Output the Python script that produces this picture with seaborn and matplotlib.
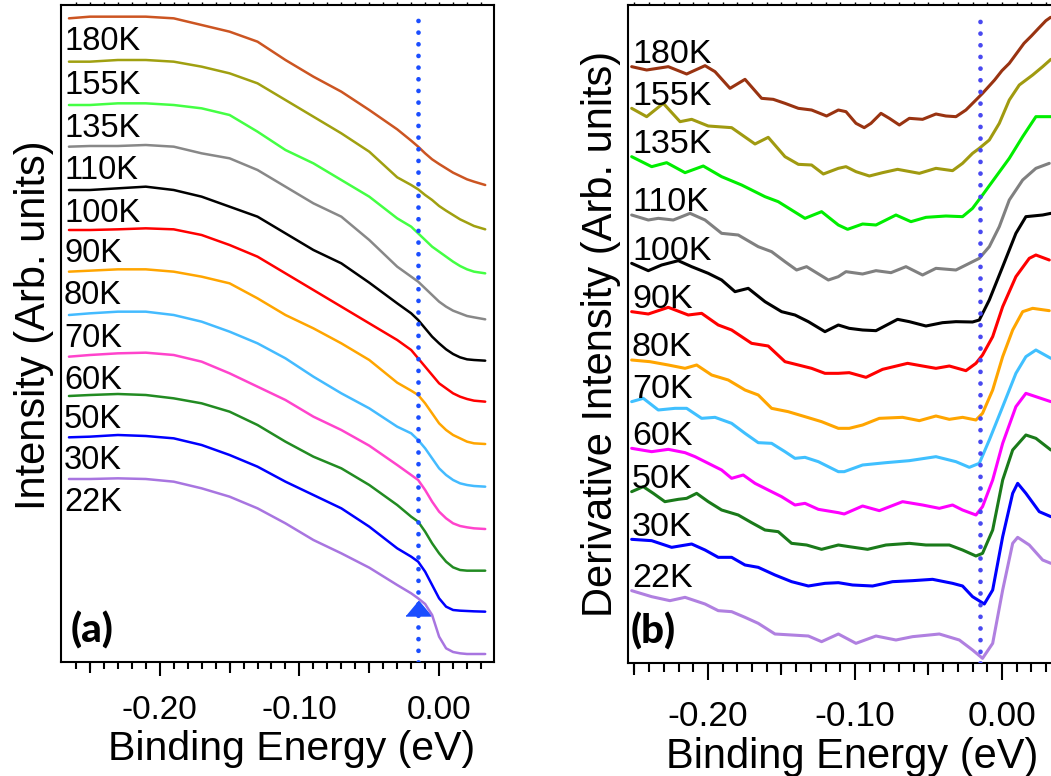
import numpy as np
import pandas as pd
import matplotlib
matplotlib.use("Agg")
import matplotlib.pyplot as plt
import matplotlib.transforms as mtransforms
from matplotlib.ticker import FixedLocator
import seaborn as sns

# ---------------- data (arbitrary units, "reading" scale) ----------------
temps = ['180K', '155K', '135K', '110K', '100K', '90K', '80K', '70K', '60K', '50K', '30K', '22K']

# panel (a): raw spectra (common energy grid)
energy_a = [-0.265, -0.25, -0.23, -0.21, -0.19, -0.17, -0.15, -0.13, -0.11, -0.09, -0.07, -0.05,
            -0.03, -0.02, -0.015, -0.01, -0.005, 0.0, 0.005, 0.01, 0.015, 0.02, 0.025, 0.033]
raw_180K = [55, 50, 50, 50, 55, 75, 95, 125, 180, 230, 275, 330, 388, 422, 440, 460, 478, 492, 505, 518, 528, 538, 545, 555]
raw_155K = [185, 185, 180, 180, 185, 200, 220, 250, 300, 350, 400, 455, 532, 555, 568, 585, 600, 618, 632, 645, 658, 668, 678, 688]
raw_135K = [315, 315, 310, 310, 315, 325, 345, 395, 450, 490, 540, 590, 655, 680, 700, 720, 740, 755, 770, 785, 798, 808, 815, 820]
raw_110K = [440, 438, 438, 435, 440, 460, 475, 510, 560, 610, 650, 720, 800, 830, 845, 865, 885, 905, 920, 932, 940, 948, 952, 958]
raw_100K = [570, 570, 565, 560, 570, 590, 620, 650, 700, 750, 790, 848, 910, 940, 960, 985, 1010, 1030, 1048, 1062, 1072, 1078, 1080, 1082]
raw_90K = [690, 690, 688, 685, 688, 705, 735, 770, 820, 870, 920, 970, 1020, 1050, 1075, 1100, 1125, 1150, 1165, 1180, 1190, 1197, 1202, 1205]
raw_80K = [815, 812, 808, 808, 815, 830, 850, 895, 945, 985, 1030, 1080, 1148, 1172, 1185, 1210, 1240, 1270, 1290, 1305, 1315, 1325, 1330, 1332]
raw_70K = [945, 940, 935, 935, 945, 965, 995, 1030, 1075, 1130, 1180, 1225, 1280, 1300, 1320, 1345, 1375, 1405, 1425, 1440, 1450, 1455, 1458, 1460]
raw_60K = [1070, 1065, 1060, 1058, 1065, 1085, 1120, 1160, 1200, 1250, 1290, 1337, 1395, 1425, 1440, 1470, 1505, 1535, 1555, 1570, 1578, 1582, 1585, 1587]
raw_50K = [1188, 1185, 1182, 1185, 1195, 1210, 1235, 1275, 1325, 1370, 1405, 1455, 1515, 1550, 1565, 1595, 1630, 1660, 1685, 1702, 1710, 1712, 1712, 1712]
raw_30K = [1312, 1310, 1305, 1308, 1315, 1335, 1365, 1400, 1445, 1485, 1525, 1580, 1645, 1670, 1685, 1715, 1755, 1795, 1820, 1830, 1832, 1833, 1834, 1835]
raw_22K = [1437, 1437, 1435, 1437, 1445, 1465, 1490, 1525, 1570, 1620, 1660, 1703, 1755, 1780, 1795, 1812, 1845, 1910, 1945, 1956, 1960, 1962, 1962, 1962]

# panel (b): derivative spectra (points read at features of each curve)
der_180K_E = [-0.2519, -0.2417, -0.2270, -0.2145, -0.2020, -0.1952, -0.1850, -0.1748, -0.1635, -0.1556,
              -0.1476, -0.1385, -0.1295, -0.1193, -0.1113, -0.1061, -0.0993, -0.0937, -0.0891, -0.0823,
              -0.0766, -0.0698, -0.0630, -0.0540, -0.0449, -0.0381, -0.0313, -0.0245, -0.0177, -0.0132,
              -0.0050, 0.0, 0.0050, 0.0100, 0.0150, 0.0200, 0.0249, 0.0299, 0.0331]
der_180K = [200, 210, 200, 222, 197, 215, 265, 238, 295, 298, 310, 325, 330, 348, 330, 335, 370, 383, 370, 340,
            355, 375, 355, 358, 342, 348, 350, 330, 300, 280, 240, 212, 190, 160, 130, 108, 85, 62, 52]

der_155K_E = [-0.2519, -0.2417, -0.2304, -0.2190, -0.2111, -0.1998, -0.1839, -0.1680, -0.1590, -0.1476,
              -0.1385, -0.1295, -0.1215, -0.1113, -0.1061, -0.0993, -0.0902, -0.0812, -0.0710, -0.0562,
              -0.0449, -0.0336, -0.0268, -0.0200, -0.0154, -0.0086, -0.0018, 0.0050, 0.0118, 0.0209,
              0.0277, 0.0333]
der_155K = [325, 350, 310, 365, 358, 378, 383, 432, 412, 470, 493, 495, 522, 505, 500, 515, 528, 518, 508, 520,
            505, 512, 490, 460, 445, 420, 370, 300, 255, 225, 200, 178]

der_135K_E = [-0.2519, -0.2383, -0.2281, -0.2156, -0.2032, -0.1907, -0.1771, -0.1612, -0.1522, -0.1431,
              -0.1340, -0.1227, -0.1113, -0.1050, -0.0948, -0.0857, -0.0721, -0.0619, -0.0517, -0.0381,
              -0.0268, -0.0200, -0.0132, -0.0041, 0.0050, 0.0141, 0.0231, 0.0333]
der_135K = [470, 500, 488, 518, 498, 530, 555, 590, 605, 630, 655, 635, 675, 688, 672, 675, 645, 665, 652, 648,
            650, 625, 585, 530, 475, 410, 350, 350]

der_110K_E = [-0.2519, -0.2406, -0.2338, -0.2236, -0.2122, -0.2020, -0.1907, -0.1794, -0.1658, -0.1567,
              -0.1476, -0.1397, -0.1329, -0.1181, -0.1113, -0.1061, -0.0948, -0.0857, -0.0755, -0.0653,
              -0.0540, -0.0449, -0.0313, -0.0222, -0.0154, -0.0086, -0.0018, 0.0050, 0.0141, 0.0231, 0.0322]
der_110K = [645, 660, 655, 660, 640, 660, 700, 705, 740, 755, 785, 810, 800, 840, 830, 815, 822, 812, 818, 800,
            825, 805, 810, 790, 775, 740, 680, 600, 540, 505, 490]

der_100K_E = [-0.2519, -0.2406, -0.2315, -0.2202, -0.2111, -0.1998, -0.1907, -0.1816, -0.1726, -0.1612,
              -0.1499, -0.1408, -0.1317, -0.1204, -0.1113, -0.1039, -0.0948, -0.0857, -0.0710, -0.0630,
              -0.0517, -0.0404, -0.0313, -0.0200, -0.0154, -0.0086, 0.0005, 0.0095, 0.0163, 0.0277, 0.0333]
der_100K = [790, 812, 795, 782, 800, 820, 840, 875, 865, 905, 935, 945, 965, 995, 975, 985, 990, 992, 958, 965,
            978, 968, 965, 966, 960, 900, 800, 700, 650, 645, 640]

der_90K_E = [-0.2519, -0.2406, -0.2270, -0.2134, -0.2043, -0.1930, -0.1839, -0.1703, -0.1590, -0.1476,
             -0.1385, -0.1295, -0.1204, -0.1113, -0.1039, -0.0925, -0.0812, -0.0642, -0.0540, -0.0449,
             -0.0358, -0.0245, -0.0177, -0.0132, -0.0063, 0.0005, 0.0095, 0.0186, 0.0231, 0.0322]
der_90K = [935, 942, 922, 945, 940, 975, 990, 1030, 1038, 1085, 1095, 1105, 1120, 1120, 1118, 1132, 1108, 1090,
           1098, 1105, 1098, 1112, 1090, 1065, 1010, 920, 830, 775, 765, 780]

der_80K_E = [-0.2519, -0.2395, -0.2270, -0.2156, -0.2077, -0.1975, -0.1862, -0.1748, -0.1658, -0.1567,
             -0.1454, -0.1340, -0.1227, -0.1113, -0.1039, -0.0948, -0.0834, -0.0676, -0.0562, -0.0449,
             -0.0358, -0.0268, -0.0177, -0.0132, -0.0063, 0.0005, 0.0073, 0.0141, 0.0209, 0.0322]
der_80K = [1080, 1085, 1095, 1105, 1095, 1125, 1140, 1170, 1185, 1225, 1235, 1250, 1265, 1285, 1285, 1275, 1255,
           1252, 1262, 1248, 1258, 1252, 1260, 1240, 1170, 1070, 990, 935, 925, 932]

der_70K_E = [-0.2519, -0.2440, -0.2338, -0.2224, -0.2145, -0.2043, -0.1952, -0.1839, -0.1748, -0.1658,
             -0.1567, -0.1476, -0.1408, -0.1340, -0.1249, -0.1113, -0.1073, -0.0948, -0.0789, -0.0630,
             -0.0449, -0.0313, -0.0222, -0.0154, -0.0086, 0.0005, 0.0095, 0.0163, 0.0231, 0.0333]
der_70K = [1205, 1195, 1230, 1225, 1225, 1255, 1252, 1270, 1300, 1328, 1330, 1355, 1375, 1372, 1385, 1415, 1415,
           1395, 1388, 1382, 1370, 1385, 1402, 1390, 1320, 1220, 1120, 1070, 1050, 1075]

der_60K_E = [-0.2519, -0.2383, -0.2270, -0.2156, -0.2088, -0.1975, -0.1907, -0.1839, -0.1760, -0.1680,
             -0.1590, -0.1499, -0.1408, -0.1340, -0.1249, -0.1113, -0.1073, -0.0948, -0.0834, -0.0676,
             -0.0540, -0.0426, -0.0336, -0.0268, -0.0177, -0.0132, -0.0063, 0.0005, 0.0095, 0.0163,
             0.0231, 0.0333]
der_60K = [1345, 1355, 1348, 1358, 1370, 1395, 1410, 1435, 1425, 1450, 1470, 1490, 1515, 1510, 1528, 1538, 1542,
           1518, 1532, 1505, 1515, 1525, 1515, 1530, 1545, 1520, 1440, 1330, 1220, 1180, 1190, 1205]

der_50K_E = [-0.2519, -0.2440, -0.2372, -0.2293, -0.2202, -0.2145, -0.2077, -0.1998, -0.1907, -0.1794,
             -0.1703, -0.1612, -0.1522, -0.1431, -0.1329, -0.1227, -0.1113, -0.1039, -0.0914, -0.0789,
             -0.0630, -0.0517, -0.0358, -0.0268, -0.0177, -0.0132, -0.0063, 0.0005, 0.0073, 0.0163,
             0.0231, 0.0333]
der_50K = [1475, 1460, 1480, 1505, 1498, 1495, 1480, 1505, 1530, 1545, 1568, 1590, 1595, 1630, 1635, 1648, 1635,
           1640, 1648, 1635, 1630, 1635, 1635, 1650, 1668, 1660, 1590, 1440, 1350, 1305, 1315, 1350]

der_30K_E = [-0.2519, -0.2383, -0.2247, -0.2111, -0.2020, -0.1930, -0.1839, -0.1748, -0.1658, -0.1544,
             -0.1431, -0.1317, -0.1204, -0.1113, -0.1016, -0.0880, -0.0744, -0.0608, -0.0472, -0.0336,
             -0.0268, -0.0200, -0.0120, -0.0063, 0.0005, 0.0073, 0.0107, 0.0163, 0.0254, 0.0333]
der_30K = [1618, 1622, 1642, 1632, 1650, 1672, 1672, 1695, 1702, 1725, 1745, 1758, 1750, 1748, 1755, 1758, 1745,
           1742, 1738, 1750, 1758, 1790, 1812, 1770, 1610, 1480, 1450, 1480, 1535, 1550]

der_22K_E = [-0.2519, -0.2383, -0.2259, -0.2156, -0.2020, -0.1930, -0.1839, -0.1748, -0.1658, -0.1544,
             -0.1431, -0.1317, -0.1227, -0.1113, -0.0993, -0.0857, -0.0721, -0.0608, -0.0426, -0.0290,
             -0.0200, -0.0132, -0.0063, 0.0005, 0.0073, 0.0107, 0.0186, 0.0277, 0.0333]
der_22K = [1772, 1790, 1802, 1792, 1812, 1832, 1835, 1852, 1870, 1902, 1905, 1908, 1925, 1902, 1930, 1908, 1920,
           1910, 1902, 1920, 1950, 1975, 1930, 1770, 1630, 1612, 1635, 1680, 1690]

edge_energy = -0.015          # dotted Fermi-edge reference
triangle_reading = 1823       # level of the triangle marker in panel (a)

raw_curves = [raw_180K, raw_155K, raw_135K, raw_110K, raw_100K, raw_90K,
              raw_80K, raw_70K, raw_60K, raw_50K, raw_30K, raw_22K]
der_energies = [der_180K_E, der_155K_E, der_135K_E, der_110K_E, der_100K_E, der_90K_E,
                der_80K_E, der_70K_E, der_60K_E, der_50K_E, der_30K_E, der_22K_E]
der_curves = [der_180K, der_155K, der_135K, der_110K, der_100K, der_90K,
              der_80K, der_70K, der_60K, der_50K, der_30K, der_22K]

colors_a = ['#cc5522', '#a0a010', '#44ff44', '#888888', '#000000', '#ff0000',
            '#ffa500', '#44bbff', '#ff44cc', '#228b22', '#0000ff', '#a875e0']
colors_b = ['#993311', '#a09a10', '#00ee00', '#808080', '#000000', '#ff0000',
            '#ffa500', '#40c0ff', '#ff00ff', '#1a7a1a', '#0000ff', '#b080e0']


def to_intensity(r):
    # picture readings grow downward; convert to an upward arbitrary-unit scale
    return (2000.0 - np.asarray(r, dtype=float)) / 100.0


def long_frame(energies, curves):
    rows = []
    for t, en, c in zip(temps, energies, curves):
        for e, v in zip(en, to_intensity(c)):
            rows.append((e, v, t))
    return pd.DataFrame(rows, columns=['E', 'I', 'T'])


df_a = long_frame([energy_a] * len(temps), raw_curves)
df_b = long_frame(der_energies, der_curves)

# ---------------- styling ----------------
sns.set_theme(style='ticks')
plt.rcParams['font.family'] = ['Liberation Sans', 'DejaVu Sans']
plt.rcParams.update({
    'axes.linewidth': 1.5,
    'text.color': 'black',
    'axes.labelcolor': 'black',
    'axes.edgecolor': 'black',
    'xtick.color': 'black',
    'ytick.color': 'black',
    'lines.solid_joinstyle': 'round',
    'lines.solid_capstyle': 'round',
})

W, H = 1051, 776
fig = plt.figure(figsize=(W / 100, H / 100), dpi=100)


def px_axes(left, top, right, bottom):
    return fig.add_axes([left / W, 1 - bottom / H, (right - left) / W, (bottom - top) / H])


ax_a = px_axes(61, 5, 494, 662)
ax_b = px_axes(628, 5, 1060, 663)

sns.lineplot(data=df_a, x='E', y='I', hue='T', hue_order=temps,
             palette=dict(zip(temps, colors_a)), estimator=None, sort=False,
             legend=False, lw=1.8, ax=ax_a, zorder=3)
sns.lineplot(data=df_b, x='E', y='I', hue='T', hue_order=temps,
             palette=dict(zip(temps, colors_b)), estimator=None, sort=False,
             legend=False, lw=2.2, ax=ax_b, zorder=3)
for ax in (ax_a, ax_b):
    for ln in ax.get_lines():
        ln.set_solid_joinstyle('round')
        ln.set_solid_capstyle('round')

ax_a.set_xlim(-0.2707, 0.0393)
ax_a.set_ylim(0.14, 19.85)
ax_b.set_xlim(-0.2544, 0.0395)
ax_b.set_ylim(0.11, 19.85)


def style_axis(ax, minor, maj_len, med_len, min_len, tsize, pad):
    ax.set_xticks([-0.2, -0.1, 0.0])
    ax.set_xticklabels(['-0.20', '-0.10', '0.00'])
    ax.xaxis.set_minor_locator(FixedLocator(minor))
    ax.tick_params(axis='x', which='major', direction='out', length=maj_len, width=1.5,
                   labelsize=tsize, pad=pad, colors='black')
    ax.tick_params(axis='x', which='minor', direction='out', length=min_len, width=1.5,
                   bottom=True, colors='black')
    ax.set_yticks([])
    ax.set_ylabel('')
    for s in ax.spines.values():
        s.set_linewidth(1.5)
        s.set_color('black')
    med = ax.secondary_xaxis('bottom')
    med.set_xticks([-0.25, -0.15, -0.05])
    med.tick_params(axis='x', length=med_len, width=1.5, labelbottom=False,
                    direction='out', colors='black')
    med.spines['bottom'].set_visible(False)
    top = ax.secondary_xaxis('top')
    top.set_xticks(minor)
    top.tick_params(axis='x', length=2.0, width=1.0, labeltop=False,
                    direction='out', colors='black')
    top.spines['top'].set_visible(False)


minor_a = list(np.round(np.arange(-26, 4) * 0.01, 2))
minor_b = list(np.round(np.arange(-25, 4) * 0.01, 2))
style_axis(ax_a, minor_a, 10.0, 7.7, 5.3, 24, 13.7)
style_axis(ax_b, minor_b, 12.0, 8.6, 6.5, 25.5, 14.4)
ax_b.spines['right'].set_visible(False)

ax_a.set_xlabel('Binding Energy (eV)', fontsize=29.5, color='black')
ax_a.xaxis.set_label_coords(0.5335, -0.1035)
ax_b.set_xlabel('Binding Energy (eV)', fontsize=30, color='black')
ax_b.xaxis.set_label_coords(0.5185, -0.1125)

fig.text(45 / W, 1 - 325 / H, 'Intensity (Arb. units)', rotation=90, rotation_mode='anchor',
         ha='center', va='baseline', fontsize=30, color='black')
fig.text(612 / W, 1 - 334 / H, 'Derivative Intensity (Arb. units)', rotation=90,
         rotation_mode='anchor', ha='center', va='baseline', fontsize=30, color='black')

# curve labels
tr_a = mtransforms.blended_transform_factory(ax_a.transAxes, ax_a.transData)
tr_b = mtransforms.blended_transform_factory(ax_b.transAxes, ax_b.transData)
for t, c in zip(temps, raw_curves):
    ax_a.text(0.007, to_intensity(c)[0] - 0.96, t, transform=tr_a, fontsize=23.5,
              ha='left', va='baseline', color='black', zorder=5)
for t, c in zip(temps, der_curves):
    ax_b.text(0.009, to_intensity(c)[0] + 0.11, t, transform=tr_b, fontsize=24.5,
              ha='left', va='baseline', color='black', zorder=5)

# dotted reference lines and marker
dots = (0, (0.01, 2.46))
ax_a.axvline(edge_energy, ymin=0.0, ymax=0.986, color='#1a4dff', lw=3.4,
             linestyle=dots, dash_capstyle='round', zorder=4)
ax_b.axvline(edge_energy, ymin=0.0, ymax=0.985, color='#4848f0', lw=3.4,
             linestyle=dots, dash_capstyle='round', zorder=4)
ax_a.plot([edge_energy], [to_intensity(triangle_reading)], linestyle='none',
          marker=[(-1, -0.6), (1, -0.6), (0, 0.6)], markersize=18, color='#1a4dff', zorder=2)

ax_a.text(0.023, 0.029, '(a)', transform=ax_a.transAxes, fontsize=29, fontweight='black',
          family=['Lato', 'DejaVu Sans'], ha='left', va='baseline', color='black')
ax_b.text(0.005, 0.030, '(b)', transform=ax_b.transAxes, fontsize=29, fontweight='black',
          family=['Lato', 'DejaVu Sans'], ha='left', va='baseline', color='black')

fig.savefig('out.png', dpi=100)
